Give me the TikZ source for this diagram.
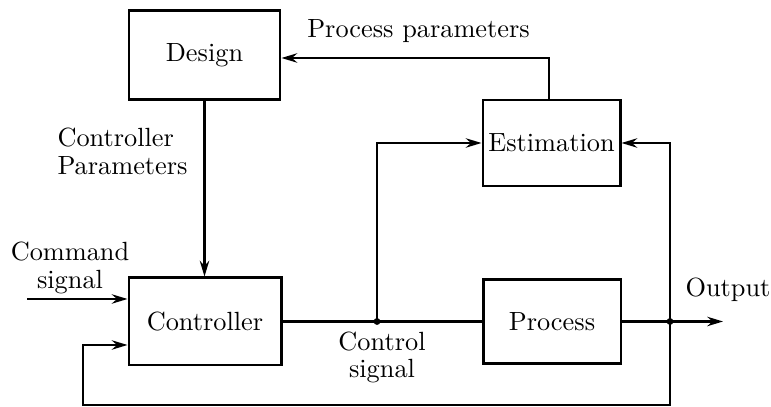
\documentclass[tikz,border=0pt]{standalone}
\usepackage{tikz}
\usetikzlibrary{arrows.meta}

\begin{document}
\begin{tikzpicture}[x=0.38pt,y=-0.38pt,
        block/.style={draw, line width=1.1pt, inner sep=1pt},
        lbl/.style={inner sep=0pt, font=\fontsize{10}{10.5}\selectfont},
        conn/.style={thick},
        >={Stealth[length=6pt,width=3.6pt,inset=2pt]}]
    \useasboundingbox (0,0) rectangle (771,407);
    % blocks
    \node[block, minimum width=57.4pt, minimum height=33.8pt] (design) at (204.5,55) {Design};
    \node[block, minimum width=52.1pt, minimum height=32.7pt] (estim) at (551.5,143) {Estimation};
    \node[block, minimum width=57.8pt, minimum height=33.1pt] (ctrl) at (205,321.5) {Controller};
    \node[block, minimum width=52.4pt, minimum height=31.9pt] (proc) at (552,321.5) {Process};
    % points on the wires
    \coordinate (split) at (377,321.5);
    \coordinate (out) at (670,321.5);
    \coordinate (end) at (723,321.5);
    \coordinate (cmd) at (27,299);
    \coordinate (fbl) at (83,405);
    \coordinate (fb) at (83,345);
    \coordinate (pp) at (549,58);
    % wires
    \draw[conn,->] (design.south) -- (design.south |- ctrl.north);
    \draw[conn,->] (cmd) -- (cmd -| ctrl.west);
    \draw[conn] (ctrl.east) -- (proc.west);
    \draw[conn,->] (proc.east) -- (end);
    \draw[conn,->] (split) |- (estim.west);
    \draw[conn,->] (out) |- (estim.east);
    \draw[conn,->] (out) |- (fbl) |- (fb -| ctrl.west);
    \draw[conn,->] (pp |- estim.north) -- (pp) -- (pp -| design.east);
    \foreach \p in {split,out}
        \fill (\p) circle (1.3pt);
    % labels
    \node[lbl, anchor=base] (pplbl) at (418.5,38) {Process parameters};
    \node[lbl, align=left, anchor=west] (cplbl) at (57,151.5) {Controller\\Parameters};
    \node[lbl, align=center] (cmdlbl) at (70,268) {Command\\signal};
    \node[lbl, align=center] (cslbl) at (382,357.5) {Control\\signal};
    \node[lbl, anchor=base west] (outlbl) at (685,297) {Output};
\end{tikzpicture}
\end{document}
